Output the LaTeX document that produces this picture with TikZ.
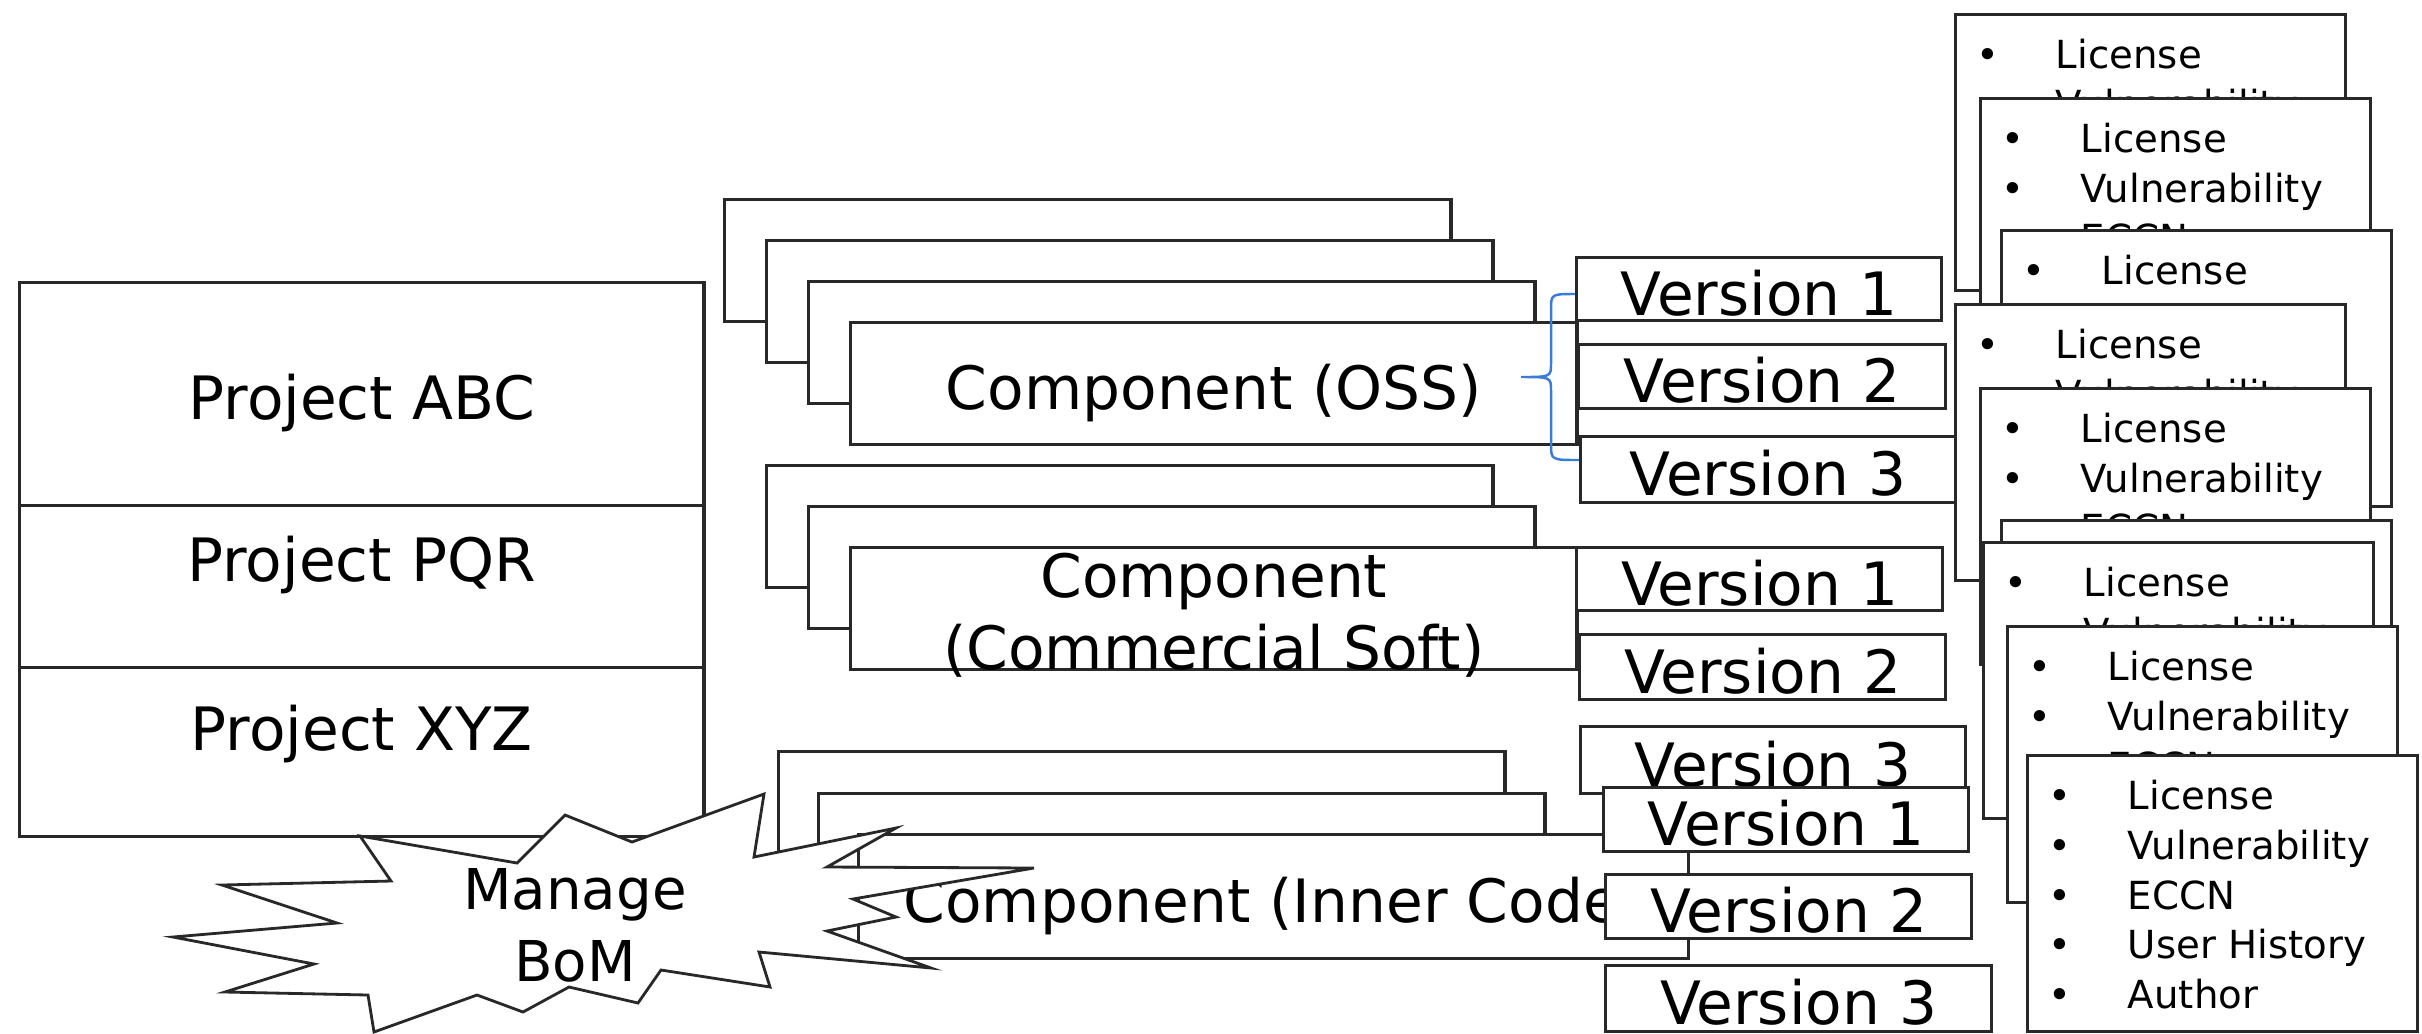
\documentclass[tikz,border=0pt]{standalone}
\usepackage{fontspec}
\setmainfont{DejaVu Sans}
\usetikzlibrary{positioning,calc}
\definecolor{bracecol}{RGB}{58,124,215}
\definecolor{edgecol}{RGB}{40,40,40}
\newcommand{\bigtext}{\fontsize{17pt}{20.6pt}\selectfont}
\newcommand{\listtext}{\fontsize{11pt}{14pt}\selectfont}
\newcommand{\bulleted}[1]{\makebox[0.796cm][l]{\textbullet}#1}
\tikzset{
    frame/.style={draw=edgecol, fill=white, line width=0.9pt,
        inner sep=0pt, anchor=north west},
    onel/.style={font=\bigtext, text height=14.8pt, text depth=0pt},
    projbox/.style={frame, onel, minimum width=6.84cm, minimum height=2.225cm},
    compbox/.style={frame, onel, minimum width=#1, minimum height=1.215cm},
    compbox/.default=7.26cm,
    verbox/.style={frame, onel, minimum width=#1},
    verbox/.default=3.66cm,
    infobox/.style={frame, minimum width=3.9cm, minimum height=2.76cm},
    infoline/.style={anchor=base west, inner sep=0pt, font=\listtext},
    burst/.style={draw=edgecol, fill=white, line width=0.8pt},
    brace/.style={draw=bracecol, line width=0.7pt}
}

\begin{document}
\begin{tikzpicture}[x=0.01cm, y=-0.01cm]
    \useasboundingbox (0,0) rectangle (2422,1033);
    \fill[white] (0,0) rectangle (2422,1033);

    \node[projbox] (projxyz) at (18,612) {Project XYZ};
    \node[projbox] (projpqr) at (18,443) {Project PQR};
    \node[projbox] (projabc) at (18,281) {Project ABC};

    \coordinate (ossnw) at (849,321);
    \foreach \k in {3,2,1}
        \node[compbox] (oss\k) at ([shift={(-42*\k,-41*\k)}]ossnw) {};
    \node[compbox] (oss) at (ossnw) {Component (OSS)};

    \coordinate (comnw) at (849,546);
    \foreach \k in {2,1}
        \node[compbox] (com\k) at ([shift={(-42*\k,-41*\k)}]comnw) {};
    \node[compbox] (com) at (comnw) {};
    \node[font=\bigtext, align=center, inner sep=0pt] (comlbl)
        at ([yshift=-0.07cm]com.center) {Component\\(Commercial Soft)};

    \coordinate (innnw) at (857,833);
    \foreach \k in {2,1}
        \node[compbox] (inn\k) at ([shift={(-40*\k,-41.5*\k)}]innnw) {};
    \node[compbox=8.29cm, minimum height=1.24cm] (inn) at (innnw) {Component (Inner Code)};

    \foreach \n/\x/\y/\w/\h in {1/1575/256/3.65cm/0.63cm, 2/1577/343/3.67cm/0.64cm, 3/1579/435/3.75cm/0.66cm}
        \node[verbox=\w, minimum height=\h] (ossv\n) at (\x,\y) {Version \n};
    \foreach \n/\x/\y/\w/\h in {1/1575/546/3.66cm/0.63cm, 2/1578/633/3.66cm/0.65cm, 3/1579/725/3.85cm/0.67cm}
        \node[verbox=\w, minimum height=\h] (comv\n) at (\x,\y) {Version \n};
    \foreach \n/\x/\y/\w/\h in {1/1602/786/3.65cm/0.64cm, 2/1604/873/3.66cm/0.64cm, 3/1604/964/3.86cm/0.66cm}
        \node[verbox=\w, minimum height=\h] (innv\n) at (\x,\y) {Version \n};

    \coordinate (brtop) at (ossv1.west |- 0,294);
    \coordinate (brbot) at (ossv3.west |- 0,460);
    \draw[brace] (brtop) .. controls (1551,294) .. (1551,310) -- (1551,363)
        .. controls (1551,377) .. (1521,377) .. controls (1551,377) .. (1551,391)
        -- (1551,444) .. controls (1551,460) .. (brbot);

    \foreach \n/\x/\y in {1/1954/13, 2/1979/97, 3/2000/229, 4/1954/303, 5/1979/387,
                          6/2000/519, 7/1982/541, 8/2006/625, 9/2026/754} {
        \node[infobox] (info\n) at (\x,\y) {};
        \foreach \j/\entry in {0/License, 1/Vulnerability, 2/ECCN, 3/User History, 4/Author}
            \node[infoline] (info\n-\j) at ([shift={(21.6,55.6+49.7*\j)}]info\n.north west) {\bulleted{\entry}};
    }

    \draw[burst] (173,937) -- (337,923) -- (222,885) -- (391,881) -- (360,836)
        -- (517,863) -- (565,815) -- (632,842) -- (764,794) -- (754,857)
        -- (896,828) -- (827,867) -- (1034,868) -- (853,899) -- (896,917)
        -- (827,931) -- (931,968) -- (759,952) -- (770,987) -- (661,970)
        -- (638,1003) -- (569,987) -- (523,1012) -- (477,995) -- (374,1032)
        -- (368,995) -- (225,992) -- (314,964) -- cycle;
    \node[font=\fontsize{16pt}{20.4pt}\selectfont, align=center, inner sep=0pt] (bom)
        at (575,925) {Manage\\BoM};
\end{tikzpicture}
\end{document}
